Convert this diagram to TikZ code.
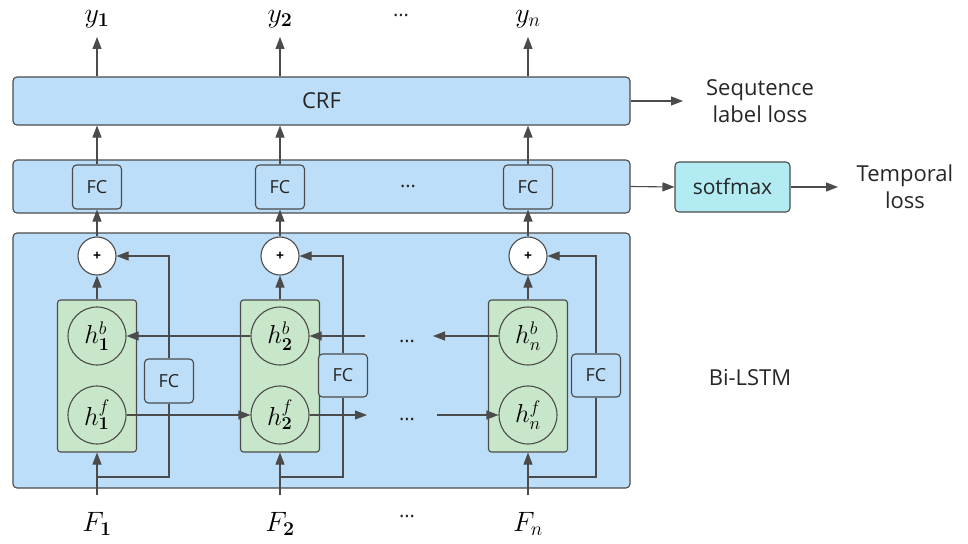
\RequirePackage{fix-cm}
\documentclass[tikz,border=0pt]{standalone}
\usepackage[no-math]{fontspec}
\setmainfont{Open Sans}
\usetikzlibrary{arrows.meta}
\definecolor{boxblue}{RGB}{189,222,248}
\definecolor{boxgreen}{RGB}{200,230,201}
\definecolor{boxcyan}{RGB}{178,235,242}
\definecolor{edge}{RGB}{75,75,75}
\tikzset{
  bigbox/.style={draw=edge, line width=1.1pt, fill=boxblue, rounded corners=4pt, minimum width=617pt, inner sep=0pt},
  fcbox/.style={draw=edge, line width=1.1pt, fill=boxblue, rounded corners=4pt, minimum width=49pt, minimum height=44pt, inner sep=0pt, font=\fontsize{18}{20}\selectfont, text=black!85},
  greenbox/.style={draw=edge, line width=1.1pt, fill=boxgreen, rounded corners=3pt, minimum width=79pt, minimum height=152pt, inner sep=0pt},
  hcirc/.style={draw=edge, line width=1.1pt, circle, minimum size=58pt, inner sep=0pt, font=\fontsize{26}{28}\selectfont},
  pluscirc/.style={draw=edge, line width=1.1pt, fill=white, circle, minimum size=38pt, inner sep=0pt, font=\fontsize{14}{16}\selectfont\bfseries},
  conn/.style={draw=edge, line width=1.1pt},
  arr/.style={conn, -{Triangle[length=12pt,width=9pt]}},
  lbl/.style={font=\fontsize{22}{27}\selectfont, align=center, text=black!85},
  mlbl/.style={font=\fontsize{28}{30}\selectfont},
  dots/.style={font=\fontsize{20}{22}\selectfont, text=black!85}
}
\begin{document}
\begin{tikzpicture}[x=1pt,y=-1pt]
\useasboundingbox (0,0) rectangle (968,543);
% big boxes
\node[bigbox, minimum height=48pt, font=\fontsize{22}{24}\selectfont, text=black!85] (crf) at (321.5,101) {CRF};
\node[bigbox, minimum height=53pt] (fcrow) at (321.5,186.5) {};
\node[bigbox, minimum height=255pt] (lstm) at (321.5,360.5) {};
% FC row boxes
\node[fcbox] (fcA) at (97,187) {FC};
\node[fcbox] (fcB) at (280,187) {FC};
\node[fcbox] (fcC) at (528,187) {FC};
\node[dots] (dotfc) at (408,186) {...};
% plus circles
\node[pluscirc] (pA) at (97,256) {+};
\node[pluscirc] (pB) at (280,256) {+};
\node[pluscirc] (pC) at (528,256) {+};
% green boxes
\node[greenbox] (gA) at (97,376) {};
\node[greenbox] (gB) at (280,376) {};
\node[greenbox] (gC) at (528,376) {};
% hidden states
\node[hcirc] (hbA) at (97,336) {$h^{b}_{\mathbf{1}}$};
\node[hcirc] (hfA) at (97,415) {$h^{f}_{\mathbf{1}}$};
\node[hcirc] (hbB) at (280,336) {$h^{b}_{\mathbf{2}}$};
\node[hcirc] (hfB) at (280,415) {$h^{f}_{\mathbf{2}}$};
\node[hcirc] (hbC) at (528,336) {$h^{b}_{n}$};
\node[hcirc] (hfC) at (528,415) {$h^{f}_{n}$};
% side FC boxes
\node[fcbox] (sA) at (169,381) {FC};
\node[fcbox, minimum height=43pt] (sB) at (343,375.5) {FC};
\node[fcbox, minimum height=43pt] (sC) at (596,375.5) {FC};
% inputs and outputs
\node[mlbl] (FA) at (97,524) {$F_{\mathbf{1}}$};
\node[mlbl] (FB) at (280,524) {$F_{\mathbf{2}}$};
\node[mlbl] (FC) at (528,524) {$F_{n}$};
\node[dots] (dotF) at (407,516) {...};
\node[mlbl] (yA) at (97,19) {$y_{\mathbf{1}}$};
\node[mlbl] (yB) at (280,19) {$y_{\mathbf{2}}$};
\node[mlbl] (yC) at (528,19) {$y_{n}$};
\node[dots] (doty) at (401,15) {...};
% coordinates
\coordinate (inA) at (97,495);
\coordinate (inB) at (280,495);
\coordinate (inC) at (528,495);
\coordinate (jA) at (97,477);
\coordinate (jB) at (280,477);
\coordinate (jC) at (528,477);
\coordinate (outA) at (97,37);
\coordinate (outB) at (280,37);
\coordinate (outC) at (528,37);
% vertical flow
\foreach \c in {A,B,C}{
  \draw[arr] (in\c) -- (g\c.south);
  \draw[arr] (g\c.north) -- (p\c.south);
  \draw[arr] (p\c.north) -- (fc\c.south);
  \draw[arr] (fc\c.north) -- (fc\c.north |- crf.south);
  \draw[arr] (crf.north -| out\c) -- (out\c);
  \draw[conn] (j\c) -| (s\c.south);
  \draw[arr] (s\c.north) |- (p\c.east);
}
% recurrent connections
\coordinate (bin) at (365,336);
\coordinate (fout) at (367,415);
\coordinate (bout) at (433,336);
\coordinate (fin) at (437,415);
\draw[arr] (hbB.west) -- (hbA.east);
\draw[arr] (hfA.east) -- (hfB.west);
\draw[arr] (bin) -- (hbB.east);
\draw[arr] (hfB.east) -- (fout);
\draw[arr] (hbC.west) -- (bout);
\draw[arr] (fin) -- (hfC.west);
\node[dots] (dotb) at (407,341) {...};
\node[dots] (dotf) at (407,419) {...};
% right side
\coordinate (seqend) at (683,101);
\draw[arr] (crf.east) -- (seqend);
\node[lbl] (seq) at (760,101) {Sequtence\\label loss};
\node[draw=edge, line width=1.1pt, fill=boxcyan, rounded corners=4pt, minimum width=115pt, minimum height=50pt, inner sep=0pt, font=\fontsize{21}{23}\selectfont, text=black!85] (smax) at (732.5,187) {sotfmax};
\draw[arr] (fcrow.east) -- (smax.west);
\coordinate (tend) at (838,187);
\draw[arr] (smax.east) -- (tend);
\node[lbl] (temp) at (905,187) {Temporal\\loss};
\node[lbl] (bil) at (750,378) {Bi-LSTM};
\end{tikzpicture}
\end{document}
